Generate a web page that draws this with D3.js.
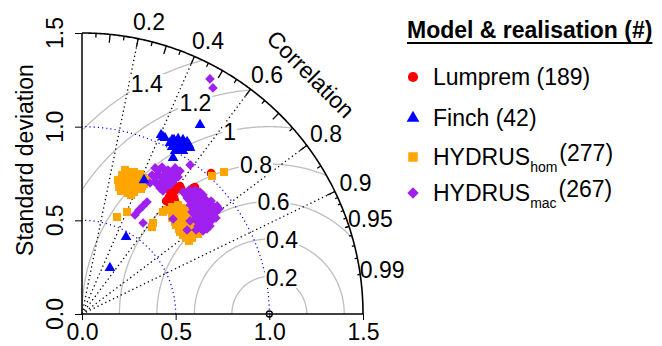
<!DOCTYPE html>
<html>
<head>
<meta charset="utf-8">
<script src="https://cdn.jsdelivr.net/npm/d3@7"></script>
<style>
  body { margin: 0; background: #fff; }
  svg { display: block; }
  text { font-family: "Liberation Sans", Arial, sans-serif; fill: #000; }
</style>
</head>
<body>
<script>
// Taylor diagram: points are given in diagram coordinates (sd*r, sd*sqrt(1-r^2))
const maxSd = 1.5;
const refSd = 1.0;
const sdTicks = [0.0, 0.5, 1.0, 1.5];
const sdArcs = [0.5, 1.0];
const corrLines = [0.2, 0.4, 0.6, 0.8, 0.9];
const corrLabels = [0.2, 0.4, 0.6, 0.8, 0.9, 0.95, 0.99];
const rmsArcs = [0.2, 0.4, 0.6, 0.8, 1.0, 1.2, 1.4];

const lumprem = [
  [0.459, 0.609], [0.481, 0.635], [0.502, 0.662], [0.470, 0.587], [0.497, 0.603],
  [0.513, 0.673], [0.464, 0.625], [0.486, 0.650], [0.475, 0.570], [0.492, 0.620],
  [0.470, 0.657], [0.449, 0.603], [0.523, 0.683], [0.491, 0.683],
  [0.603, 0.678], [0.592, 0.672], [0.689, 0.753], [0.530, 0.668]
];
const finch = [
  [0.630, 1.009], [0.432, 0.945], [0.422, 0.956], [0.443, 0.940],
  [0.470, 0.913], [0.491, 0.929], [0.513, 0.934], [0.539, 0.929], [0.561, 0.918],
  [0.481, 0.892], [0.507, 0.897], [0.534, 0.897], [0.555, 0.892], [0.518, 0.876],
  [0.539, 0.870], [0.497, 0.870], [0.571, 0.902], [0.481, 0.929], [0.502, 0.913],
  [0.529, 0.913], [0.550, 0.908], [0.523, 0.886], [0.577, 0.886], [0.486, 0.833],
  [0.331, 0.715], [0.235, 0.411], [0.149, 0.246]
];
const hydrusHom = [
  [0.214, 0.742], [0.246, 0.758], [0.278, 0.758], [0.310, 0.747], [0.208, 0.705],
  [0.240, 0.715], [0.272, 0.721], [0.304, 0.710], [0.331, 0.694], [0.224, 0.673],
  [0.256, 0.678], [0.288, 0.683], [0.315, 0.667], [0.246, 0.646], [0.278, 0.651],
  [0.198, 0.678], [0.230, 0.740], [0.262, 0.700], [0.230, 0.731], [0.262, 0.737],
  [0.294, 0.731], [0.326, 0.726], [0.224, 0.689], [0.256, 0.699], [0.288, 0.705],
  [0.320, 0.683], [0.208, 0.657], [0.240, 0.662], [0.272, 0.667], [0.262, 0.635],
  [0.192, 0.715], [0.230, 0.769], [0.342, 0.715],
  [0.187, 0.518], [0.240, 0.545], [0.374, 0.464], [0.379, 0.486], [0.432, 0.545],
  [0.454, 0.555], [0.758, 0.758], [0.694, 0.737],
  [0.481, 0.571], [0.513, 0.582], [0.497, 0.545], [0.529, 0.545], [0.561, 0.545],
  [0.481, 0.513], [0.513, 0.507], [0.545, 0.507], [0.577, 0.502], [0.502, 0.475],
  [0.534, 0.470], [0.566, 0.470], [0.598, 0.470], [0.523, 0.438], [0.555, 0.438],
  [0.587, 0.438], [0.555, 0.406], [0.587, 0.406], [0.619, 0.427], [0.540, 0.560],
  [0.497, 0.566], [0.529, 0.566], [0.513, 0.529], [0.545, 0.529], [0.577, 0.529],
  [0.497, 0.491], [0.529, 0.491], [0.561, 0.491], [0.518, 0.454], [0.550, 0.454],
  [0.582, 0.454], [0.539, 0.422], [0.571, 0.422], [0.571, 0.390]
];
const hydrusMac = [
  [0.683, 1.255], [0.699, 1.207],
  [0.390, 0.780], [0.427, 0.785], [0.459, 0.769], [0.497, 0.780], [0.523, 0.763],
  [0.374, 0.742], [0.406, 0.747], [0.443, 0.742], [0.481, 0.742], [0.513, 0.731],
  [0.390, 0.705], [0.422, 0.705], [0.454, 0.710], [0.486, 0.705], [0.416, 0.673],
  [0.448, 0.678], [0.363, 0.699], [0.406, 0.769], [0.443, 0.763], [0.475, 0.758],
  [0.507, 0.758], [0.390, 0.726], [0.427, 0.726], [0.459, 0.726], [0.491, 0.721],
  [0.406, 0.689], [0.438, 0.694], [0.470, 0.689], [0.432, 0.657], [0.577, 0.796],
  [0.283, 0.529], [0.304, 0.555], [0.326, 0.577], [0.347, 0.598], [0.326, 0.486],
  [0.539, 0.651], [0.571, 0.662], [0.603, 0.662], [0.630, 0.651], [0.561, 0.619],
  [0.593, 0.625], [0.625, 0.625], [0.657, 0.614], [0.689, 0.603], [0.577, 0.582],
  [0.609, 0.587], [0.641, 0.587], [0.673, 0.577], [0.705, 0.571], [0.587, 0.545],
  [0.619, 0.545], [0.651, 0.545], [0.683, 0.545], [0.715, 0.545], [0.603, 0.507],
  [0.635, 0.507], [0.667, 0.507], [0.699, 0.507], [0.619, 0.470], [0.651, 0.470],
  [0.683, 0.470], [0.646, 0.443], [0.731, 0.561],
  [0.555, 0.635], [0.587, 0.641], [0.619, 0.641], [0.646, 0.635], [0.577, 0.603],
  [0.609, 0.603], [0.641, 0.603], [0.673, 0.593], [0.593, 0.566], [0.625, 0.566],
  [0.657, 0.566], [0.689, 0.561], [0.721, 0.577], [0.603, 0.529], [0.635, 0.529],
  [0.667, 0.529], [0.699, 0.529], [0.619, 0.491], [0.651, 0.491], [0.683, 0.491],
  [0.715, 0.513], [0.635, 0.459], [0.667, 0.454], [0.609, 0.448],
  [0.486, 0.507], [0.577, 0.497], [0.561, 0.448]
];

const legendItems = [
  { name: "Lumprem", sub: "", count: "(189)", color: "#ff0000", shape: "circle" },
  { name: "Finch", sub: "", count: "(42)", color: "#0000ff", shape: "triangle" },
  { name: "HYDRUS", sub: "hom", count: "(277)", color: "#ffa500", shape: "square" },
  { name: "HYDRUS", sub: "mac", count: "(267)", color: "#a020f0", shape: "diamond" }
];

const width = 662, height = 346;
const svg = d3.select("body").append("svg")
  .attr("width", width).attr("height", height);

const x = d3.scaleLinear().domain([0, maxSd]).range([82, 363]);
const y = d3.scaleLinear().domain([0, maxSd]).range([314, 33]);

const line = d3.line().x(d => x(d[0])).y(d => y(d[1]));

// grey centred-RMS arcs around the reference point
rmsArcs.forEach(g => {
  const pts = [];
  for (let t = 0; t <= Math.PI + 1e-9; t += 0.01) {
    const px = refSd + g * Math.cos(t), py = g * Math.sin(t);
    if (px < 0) break;
    if (px * px + py * py <= maxSd * maxSd) pts.push([px, py]);
  }
  svg.append("path").attr("d", line(pts))
    .attr("fill", "none").attr("stroke", "#bebebe").attr("stroke-width", 1.3);
});

// blue dotted sd arcs
sdArcs.forEach(s => {
  const pts = d3.range(0, Math.PI / 2 + 0.001, 0.01).map(t => [s * Math.cos(t), s * Math.sin(t)]);
  pts.push([0, s]);
  svg.append("path").attr("d", line(pts))
    .attr("fill", "none").attr("stroke", "#0000ff").attr("stroke-width", 1.2)
    .attr("stroke-dasharray", "1.2 3");
});

// dotted correlation lines
corrLines.forEach(r => {
  svg.append("path").attr("d", line([[0, 0], [maxSd * r, maxSd * Math.sqrt(1 - r * r)]]))
    .attr("stroke", "#000").attr("stroke-width", 1.3).attr("stroke-dasharray", "1.3 3");
});

// RMS labels on white boxes (plotrix positions)
const labelPos = d3.range(rmsArcs.length).map(i => Math.floor(45 + i * 25 / (rmsArcs.length - 1)));
rmsArcs.forEach((g, i) => {
  const t = (labelPos[i] - 1) * 0.03;
  const px = x(refSd + g * Math.cos(t)) + 3, py = y(g * Math.sin(t));
  const grp = svg.append("g");
  const txt = grp.append("text").attr("x", px).attr("y", py).attr("dy", "0.36em")
    .attr("text-anchor", "middle").attr("font-size", 23).text(d3.format("")(g));
  const bb = txt.node().getBBox();
  grp.insert("rect", "text").attr("x", bb.x - 1).attr("y", bb.y + 3)
    .attr("width", bb.width + 2).attr("height", bb.height - 6).attr("fill", "#fff");
});

// outer arc and ticks
const outer = d3.range(0, Math.PI / 2 + 0.001, 0.005).map(t => [maxSd * Math.cos(t), maxSd * Math.sin(t)]);
outer.push([0, maxSd]);
svg.append("path").attr("d", line(outer)).attr("fill", "none").attr("stroke", "#000").attr("stroke-width", 1.6);
const ticks = [
  ...d3.range(1, 10).map(i => ({ r: i / 10, len: 0.03 })),
  ...d3.range(0, 10).map(i => ({ r: 0.05 + i / 10, len: 0.015 })),
  ...d3.range(1, 10).map(i => ({ r: 0.9 + i / 100, len: 0.01 }))
];
ticks.forEach(tk => {
  const c = tk.r, s = Math.sqrt(1 - c * c);
  svg.append("path").attr("d", line([[maxSd * c, maxSd * s], [maxSd * (1 - tk.len) * c, maxSd * (1 - tk.len) * s]]))
    .attr("stroke", "#000").attr("stroke-width", 1.3);
});
corrLabels.forEach(r => {
  const s = Math.sqrt(1 - r * r);
  svg.append("text").attr("x", x(1.05 * maxSd * r) + 8).attr("y", y(1.05 * maxSd * s) - 3)
    .attr("dy", "0.36em").attr("text-anchor", "middle").attr("font-size", 23).text(r);
});
svg.append("text").attr("transform", "translate(311,74) rotate(45)")
  .attr("text-anchor", "middle").attr("dy", "0.36em").attr("font-size", 23).text("Correlation");

// axes
const xAxis = svg.append("g").attr("transform", `translate(0,${y(0)})`)
  .call(d3.axisBottom(x).tickValues(sdTicks).tickFormat(d3.format(".1f")).tickSize(6).tickPadding(4));
xAxis.select(".domain").attr("d", `M${x(0)},0H${x(maxSd)}`).attr("stroke-width", 1.5);
xAxis.selectAll("text").attr("font-size", 23).attr("font-family", "Liberation Sans, Arial, sans-serif").attr("fill", "#000");
const yAxis = svg.append("g").attr("transform", `translate(${x(0)},0)`)
  .call(d3.axisLeft(y).tickValues(sdTicks).tickFormat(d3.format(".1f")).tickSize(7));
yAxis.select(".domain").attr("d", `M0,${y(0)}V${y(maxSd)}`).attr("stroke-width", 1.5);
yAxis.selectAll(".tick text").remove();
sdTicks.forEach(v => {
  svg.append("text").attr("transform", `translate(55,${y(v)}) rotate(-90)`)
    .attr("text-anchor", "middle").attr("dy", "0.36em").attr("font-size", 23).text(d3.format(".1f")(v));
});
svg.append("text").attr("transform", "translate(25,160) rotate(-90)")
  .attr("text-anchor", "middle").attr("dy", "0.36em").attr("font-size", 23).text("Standard deviation");

// reference point
svg.append("circle").attr("cx", x(refSd)).attr("cy", y(0)).attr("r", 3)
  .attr("fill", "none").attr("stroke", "#000").attr("stroke-width", 1.3);

// markers
function symbolPath(shape, big) {
  const f = big ? 1.4 : 1;
  if (shape === "circle") return d3.symbol(d3.symbolCircle, 58 * f)();
  if (shape === "triangle") return d3.symbol(d3.symbolTriangle, 50 * f)();
  if (shape === "square") return d3.symbol(d3.symbolSquare, 64 * f)();
  return d3.symbol(d3.symbolSquare, 46 * f)();
}
function drawSeries(data, item) {
  svg.append("g").selectAll("path").data(data).join("path")
    .attr("d", symbolPath(item.shape, false))
    .attr("transform", d => `translate(${x(d[0])},${y(d[1])})` + (item.shape === "diamond" ? " rotate(45)" : ""))
    .attr("fill", item.color);
}
drawSeries(lumprem, legendItems[0]);
drawSeries(hydrusHom, legendItems[2]);
drawSeries(hydrusMac, legendItems[3]);
drawSeries(finch, legendItems[1]);

// legend
const lg = svg.append("g");
const title = lg.append("text").attr("x", 407).attr("y", 38).attr("font-size", 23)
  .attr("font-weight", "bold").text("Model & realisation (#)");
const tb = title.node().getBBox();
lg.append("line").attr("x1", tb.x).attr("x2", tb.x + tb.width).attr("y1", 43).attr("y2", 43)
  .attr("stroke", "#000").attr("stroke-width", 2);
const rowY = [77, 118, 157, 193];
legendItems.forEach((it, i) => {
  lg.append("path").attr("d", symbolPath(it.shape, true))
    .attr("transform", `translate(413,${rowY[i]})` + (it.shape === "diamond" ? " rotate(45)" : ""))
    .attr("fill", it.color);
  const t = lg.append("text").attr("x", 433).attr("y", rowY[i]).attr("dy", "0.36em").attr("font-size", 23);
  t.append("tspan").text(it.name);
  if (it.sub) {
    t.append("tspan").attr("dy", "0.45em").attr("font-size", 14).text(it.sub);
    t.append("tspan").attr("dy", "-0.45em").attr("dx", 2).text(it.count);
  } else {
    t.append("tspan").text(" " + it.count);
  }
});
</script>
</body>
</html>
